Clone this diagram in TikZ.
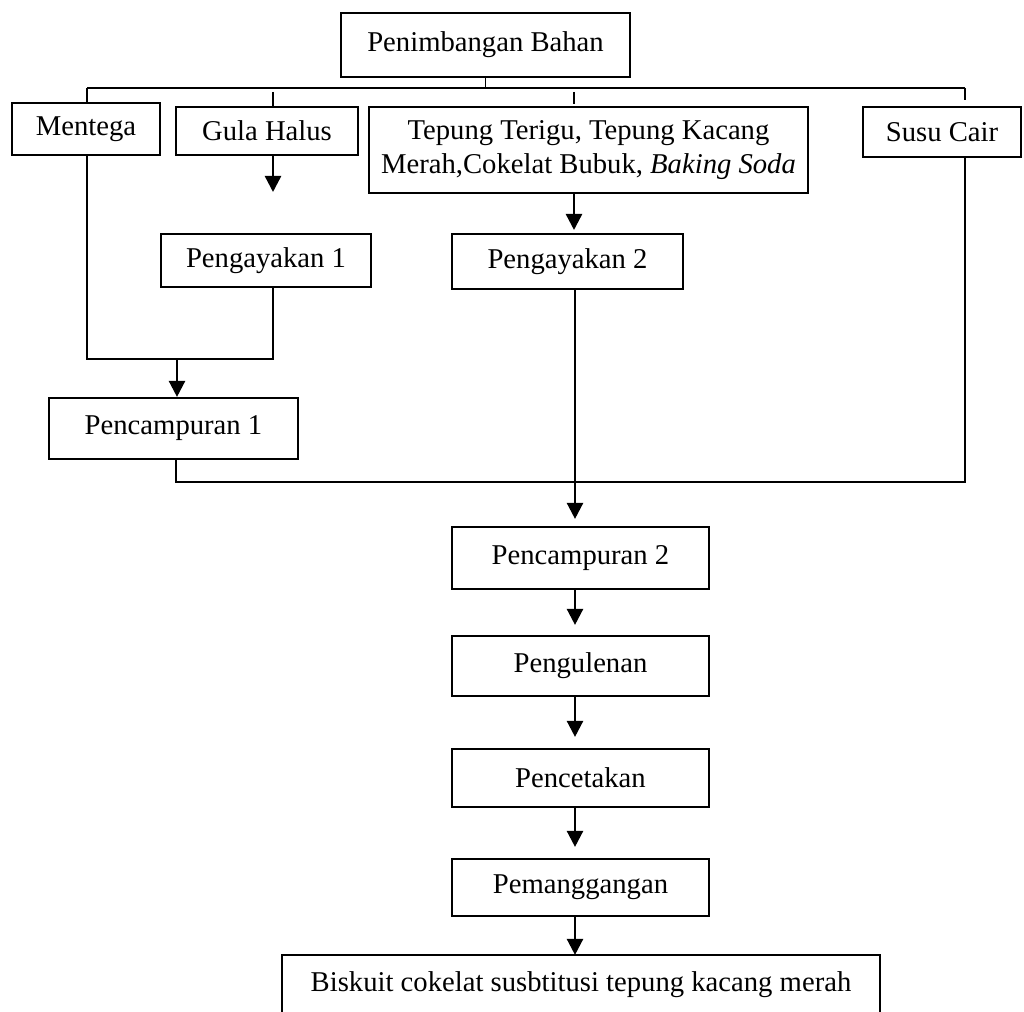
\documentclass[tikz,border=0pt]{standalone}
\usepackage{fontspec}
\setmainfont{Liberation Serif}
\usetikzlibrary{arrows.meta,calc}
\tikzset{
  box/.style={draw, line width=1.6pt, inner sep=0pt, align=center, font=\fontsize{21.5}{26}\selectfont},
  conn/.style={line width=1.3pt},
  arr/.style={line width=1.8pt, -{Triangle[width=12pt,length=12pt]}},
}
\begin{document}
\begin{tikzpicture}[x=0.75pt,y=-0.75pt]
\useasboundingbox (0,0) rectangle (1024,1012);
\clip (0,0) rectangle (1024,1012);
% boxes
\node[box, minimum width=289*0.75pt, minimum height=64*0.75pt] (pen) at (485.5,45) {Penimbangan Bahan};
\node[box, minimum width=148*0.75pt, minimum height=52*0.75pt] (men) at (86,129) {Mentega};
\node[box, minimum width=182*0.75pt, minimum height=48*0.75pt] (gula) at (267,131) {Gula Halus};
\node[box, minimum width=439*0.75pt, minimum height=86*0.75pt] (tep) at (588.5,150) {Tepung Terigu, Tepung Kacang\\Merah,Cokelat Bubuk, \textit{Baking Soda}};
\node[box, minimum width=158*0.75pt, minimum height=50*0.75pt] (susu) at (942,132) {Susu Cair};
\node[box, minimum width=210*0.75pt, minimum height=53*0.75pt] (ay1) at (266,260.5) {Pengayakan 1};
\node[box, minimum width=231*0.75pt, minimum height=55*0.75pt] (ay2) at (567.5,261.5) {Pengayakan 2};
\node[box, minimum width=249*0.75pt, minimum height=61*0.75pt] (cam1) at (173.5,428.5) {Pencampuran 1};
\node[box, minimum width=257*0.75pt, minimum height=62*0.75pt] (cam2) at (580.5,558) {Pencampuran 2};
\node[box, minimum width=257*0.75pt, minimum height=60*0.75pt] (ulen) at (580.5,666) {Pengulenan};
\node[box, minimum width=257*0.75pt, minimum height=58*0.75pt] (cetak) at (580.5,778) {Pencetakan};
\node[box, minimum width=257*0.75pt, minimum height=57*0.75pt] (oven) at (580.5,887.5) {Pemanggangan};
\node[box, draw=none, minimum width=596*0.75pt, minimum height=58*0.75pt] (fin) at (581,985) {Biskuit cokelat susbtitusi tepung kacang merah};
\draw[line width=1.6pt] ([yshift=-30pt]fin.south west) |- (fin.north east) -- ([yshift=-30pt]fin.south east);
% coordinates
\coordinate (busL) at (87,88);
\coordinate (busR) at (965,88);
\coordinate (gt) at (273,92);
\coordinate (tt) at (574,92);
\coordinate (ga) at (273,192);
\coordinate (ta) at (574,230);
\coordinate (j1L) at (87,359);
\coordinate (j1R) at (273,359);
\coordinate (j1) at (177,359);
\coordinate (j2L) at (176,482);
\coordinate (j2R) at (965,482);
\coordinate (col) at (575,0);
% top bus
\draw[conn] (pen.south) -- (pen.south |- busL);
\draw[conn] (busL) -- (busR);
\draw[conn] (busL) -- (busL |- men.north);
\draw[conn] (gt) -- (gt |- gula.north);
\draw[conn] (tt) -- ++(0,12);
\draw[conn] (busR) -- ++(0,12);
% sieving
\draw[arr] (gt |- gula.south) -- (ga);
\draw[arr] (tt |- tep.south) -- (ta);
% mixing 1
\draw[conn] (busL |- men.south) -- (j1L) -- (j1R) -- (gt |- ay1.south);
\draw[arr] (j1) -- (j1 |- cam1.north);
% to mixing 2
\draw[conn] (j2L |- cam1.south) -- (j2L) -- (j2R) -- (busR |- susu.south);
\draw[arr, shorten >=7*0.75pt] (col |- ay2.south) -- (col |- cam2.north);
% chain
\draw[arr, shorten >=10*0.75pt] (col |- cam2.south) -- (col |- ulen.north);
\draw[arr, shorten >=11*0.75pt] (col |- ulen.south) -- (col |- cetak.north);
\draw[arr, shorten >=11*0.75pt] (col |- cetak.south) -- (col |- oven.north);
\draw[arr] (col |- oven.south) -- (col |- fin.north);
\end{tikzpicture}
\end{document}
